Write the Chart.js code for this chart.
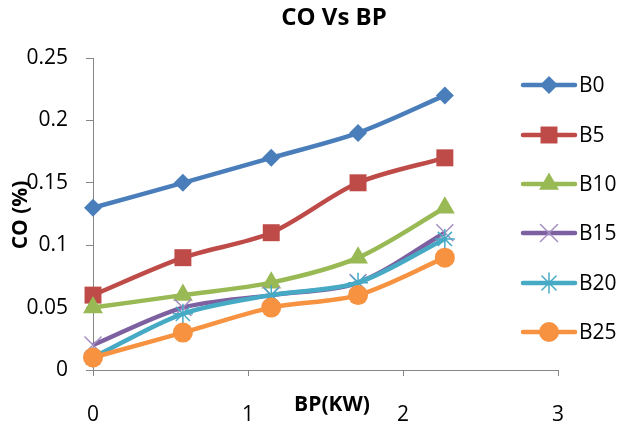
<!DOCTYPE html>
<html>
<head>
<meta charset="utf-8">
<script src="https://cdn.jsdelivr.net/npm/chart.js@4"></script>
<style>
  html, body { margin: 0; padding: 0; background: #fff; }
  #wrap { width: 621px; height: 429px; }
</style>
</head>
<body>
<div id="wrap"><canvas id="coChart" width="621" height="429"></canvas></div>
<script>
// Brake power (kW) at each load step
const bpValues = [0, 0.58, 1.15, 1.71, 2.27];

// CO (%) for each blend
const seriesNames = ['B0', 'B5', 'B10', 'B15', 'B20', 'B25'];
const b0 = [0.13, 0.15, 0.17, 0.19, 0.22];
const b5 = [0.06, 0.09, 0.11, 0.15, 0.17];
const b10 = [0.05, 0.06, 0.07, 0.09, 0.13];
const b15 = [0.02, 0.05, 0.06, 0.07, 0.11];
const b20 = [0.01, 0.045, 0.06, 0.07, 0.105];
const b25 = [0.01, 0.03, 0.05, 0.06, 0.09];

const seriesValues = [b0, b5, b10, b15, b20, b25];
const colors = ['#4A7EBB', '#BE4B48', '#98B954', '#7D60A0', '#46AAC5', '#F69240'];
const markerColors = ['#4A7EBB', '#BE4B48', '#98B954', '#A48FC2', '#46AAC5', '#F69240'];
const markers = ['rectRot', 'rect', 'triangle', 'crossRot', 'star', 'circle'];
const markerSizes = [9, 12, 11.5, 12, 10, 10];

const fontFamily = '"Open Sans", "Liberation Sans", sans-serif';

function toPoints(values) {
    return values.map((v, i) => ({ x: bpValues[i], y: v }));
}

const datasets = seriesNames.map((name, i) => {
    const lineOnly = markers[i] === 'crossRot' || markers[i] === 'star';
    return {
        label: name,
        data: toPoints(seriesValues[i]),
        borderColor: colors[i],
        backgroundColor: markerColors[i],
        borderWidth: 4.5,
        tension: 0.3,
        pointStyle: markers[i],
        pointRadius: markerSizes[i],
        pointBackgroundColor: markerColors[i],
        pointBorderColor: markerColors[i],
        pointBorderWidth: lineOnly ? 1.5 : 0,
        clip: false,
        order: seriesNames.length - i
    };
});

// Title, axis titles and the legend on the right
const textPlugin = {
    id: 'textPlugin',
    afterDraw(chart) {
        const ctx = chart.ctx;
        ctx.save();
        ctx.fillStyle = '#000';
        ctx.textAlign = 'center';
        ctx.textBaseline = 'middle';

        ctx.font = 'bold 24px ' + fontFamily;
        ctx.fillText('CO Vs BP', 334, 18);

        ctx.font = 'bold 21px ' + fontFamily;
        ctx.fillText('BP(KW)', 332, 405);

        ctx.save();
        ctx.translate(21, 215);
        ctx.rotate(-Math.PI / 2);
        ctx.fillText('CO (%)', 0, 0);
        ctx.restore();

        // legend
        const rowY = [85, 135, 184, 233, 283, 332];
        chart.data.datasets.forEach((ds, i) => {
            const y = rowY[i];
            ctx.strokeStyle = ds.borderColor;
            ctx.lineWidth = 4.5;
            ctx.lineCap = 'round';
            ctx.beginPath();
            ctx.moveTo(523, y);
            ctx.lineTo(575, y);
            ctx.stroke();

            ctx.fillStyle = ds.pointBackgroundColor;
            ctx.strokeStyle = ds.pointBorderColor;
            ctx.lineWidth = ds.pointBorderWidth;
            if (Chart.helpers && Chart.helpers.drawPoint) {
                Chart.helpers.drawPoint(ctx, {
                    pointStyle: ds.pointStyle,
                    radius: ds.pointRadius,
                    rotation: 0,
                    borderWidth: ds.pointBorderWidth
                }, 549, y);
            }

            ctx.fillStyle = '#000';
            ctx.textAlign = 'left';
            ctx.font = '21px ' + fontFamily;
            ctx.fillText(ds.label, 579, y + 1);
        });
        ctx.restore();
    }
};

const ctx = document.getElementById('coChart').getContext('2d');
const coChart = new Chart(ctx, {
    type: 'line',
    data: { datasets: datasets },
    options: {
        responsive: false,
        animation: false,
        devicePixelRatio: 1,
        layout: { padding: { left: 0, right: 63, top: 58, bottom: 0 } },
        plugins: {
            legend: { display: false },
            title: { display: false },
            tooltip: { enabled: false }
        },
        scales: {
            x: {
                type: 'linear',
                min: 0,
                max: 3,
                ticks: {
                    stepSize: 1,
                    padding: 26,
                    color: '#000',
                    font: { family: fontFamily, size: 21 }
                },
                grid: {
                    drawOnChartArea: false,
                    drawTicks: true,
                    tickLength: 6,
                    color: '#868686'
                },
                border: { display: true, color: '#868686', width: 1 },
                afterFit(scale) { scale.height = 59; }
            },
            y: {
                min: 0,
                max: 0.25,
                ticks: {
                    stepSize: 0.05,
                    padding: 18,
                    color: '#000',
                    font: { family: fontFamily, size: 21 },
                    callback: v => String(Number(v.toFixed(2)))
                },
                grid: {
                    drawOnChartArea: false,
                    drawTicks: true,
                    tickLength: 7,
                    color: '#868686'
                },
                border: { display: true, color: '#868686', width: 1 },
                afterFit(scale) { scale.width = 93; }
            }
        }
    },
    plugins: [textPlugin]
});
</script>
</body>
</html>
